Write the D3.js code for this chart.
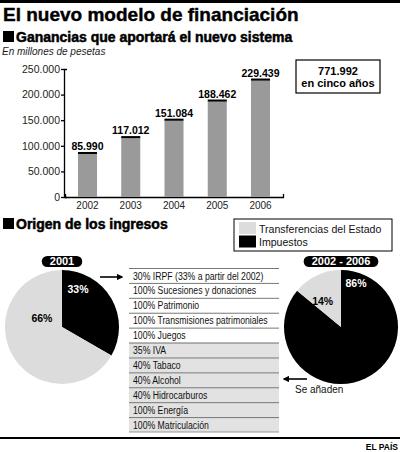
<!DOCTYPE html>
<html>
<head>
<meta charset="utf-8">
<script src="https://cdn.jsdelivr.net/npm/d3@7"></script>
<style>
body { margin: 0; background: #fff; }
svg { display: block; font-family: "Liberation Sans", Arial, Helvetica, sans-serif; }
</style>
</head>
<body>
<svg id="chart"></svg>
<script>
// bar chart: gains per year, millones de pesetas
var years = ["2002", "2003", "2004", "2005", "2006"];
var gains = [85990, 117012, 151084, 188462, 229439];
var yTicks = [0, 50000, 100000, 150000, 200000, 250000];
var totalGain = "771.992";

// pies: first value is Impuestos (black), second Transferencias (light)
var legendNames = ["Transferencias del Estado", "Impuestos"];
var share2001 = [33, 66];
var share2006 = [86, 14];

// taxes ceded; the ones from index 5 on are the new ones (se añaden)
var taxes = [
    "30% IRPF (33% a partir del 2002)",
    "100% Sucesiones y donaciones",
    "100% Patrimonio",
    "100% Transmisiones patrimoniales",
    "100% Juegos",
    "35% IVA",
    "40% Tabaco",
    "40% Alcohol",
    "40% Hidrocarburos",
    "100% Energía",
    "100% Matriculación"
];
var firstAdded = 5;

var black = "#000", light = "#dcdcdc", barGrey = "#9a9a9a";

var svg = d3.select("#chart")
    .attr("width", 400)
    .attr("height", 452);

svg.append("rect").attr("width", 400).attr("height", 452).attr("fill", "#fff");

var defs = svg.append("defs");
defs.append("marker")
    .attr("id", "head")
    .attr("viewBox", "0 0 10 10")
    .attr("refX", 8).attr("refY", 5)
    .attr("markerWidth", 4).attr("markerHeight", 4)
    .attr("orient", "auto")
    .append("path")
    .attr("d", "M0,0L10,5L0,10z")
    .attr("fill", black);

// top rule + titles
svg.append("rect").attr("x", 0).attr("y", 0).attr("width", 400).attr("height", 3).attr("fill", black);

svg.append("text")
    .attr("x", 3).attr("y", 21)
    .attr("font-size", 19).attr("font-weight", "bold")
    .attr("stroke", black).attr("stroke-width", 0.4)
    .text("El nuevo modelo de financiación");

function header(yBase, label) {
    svg.append("rect").attr("x", 3).attr("y", yBase - 11).attr("width", 11).attr("height", 11).attr("fill", black);
    svg.append("text")
        .attr("x", 16).attr("y", yBase)
        .attr("font-size", 14).attr("font-weight", "bold")
        .attr("stroke", black).attr("stroke-width", 0.5)
        .text(label);
}

header(42, "Ganancias que aportará el nuevo sistema");

svg.append("text")
    .attr("x", 2).attr("y", 55)
    .attr("font-size", 10).attr("font-style", "italic")
    .attr("fill", "#222")
    .text("En millones de pesetas");

drawBars();
header(229, "Origen de los ingresos");
drawLegend();
drawPie(62, 327, share2001, "2001", [[23, 41], [294, 22]]);
drawPie(341, 327, share2006, "2002 - 2006", [[19, 46], [325, 32]]);
drawTable();

// arrows
svg.append("line")
    .attr("x1", 100).attr("y1", 277).attr("x2", 122).attr("y2", 277)
    .attr("stroke", black).attr("stroke-width", 1.6)
    .attr("marker-end", "url(#head)");
svg.append("line")
    .attr("x1", 307).attr("y1", 379).attr("x2", 284).attr("y2", 379)
    .attr("stroke", black).attr("stroke-width", 1.6)
    .attr("marker-end", "url(#head)");
svg.append("text")
    .attr("transform", "translate(295,393) scale(0.87,1)")
    .attr("font-size", 11.5).attr("fill", "#111")
    .text("Se añaden");

// footer
svg.append("rect").attr("x", 0).attr("y", 437).attr("width", 400).attr("height", 2).attr("fill", black);
svg.append("text")
    .attr("x", 398).attr("y", 450)
    .attr("text-anchor", "end")
    .attr("font-size", 8.5).attr("font-weight", "bold")
    .text("EL PAÍS");

function drawBars() {
    var data = years.map(function(yr, i) { return { year: yr, value: gains[i] }; });
    var fmt = d3.formatLocale({ decimal: ",", thousands: ".", grouping: [3], currency: ["", ""] }).format(",");

    var x = d3.scaleBand().domain(years).range([65, 283]).paddingInner(0.56).paddingOuter(0.3);
    var y = d3.scaleLinear().domain([0, 250000]).range([197, 69]);

    var yAxis = svg.append("g")
        .attr("transform", "translate(64,0)")
        .call(d3.axisLeft(y).tickValues(yTicks).tickFormat(fmt).tickSize(3).tickSizeOuter(-3).tickPadding(1));
    yAxis.selectAll("text").attr("font-size", 10.5).attr("fill", "#222").attr("font-family", null);
    yAxis.selectAll("path, line").attr("stroke", black).attr("stroke-width", 1.3);

    var xAxis = svg.append("g")
        .attr("transform", "translate(0,197)")
        .call(d3.axisBottom(x).tickSize(0).tickSizeOuter(-3).tickPadding(5));
    xAxis.selectAll("text").attr("font-size", 10).attr("fill", "#222").attr("font-family", null);
    xAxis.selectAll("path").attr("stroke", black).attr("stroke-width", 1.3);

    var bars = svg.append("g");
    bars.selectAll(".bar").data(data).enter().append("rect")
        .attr("class", "bar")
        .attr("x", function(d) { return x(d.year); })
        .attr("y", function(d) { return y(d.value); })
        .attr("width", x.bandwidth())
        .attr("height", function(d) { return y(0) - y(d.value); })
        .attr("fill", barGrey);
    bars.selectAll(".cap").data(data).enter().append("rect")
        .attr("class", "cap")
        .attr("x", function(d) { return x(d.year); })
        .attr("y", function(d) { return y(d.value) - 1; })
        .attr("width", x.bandwidth())
        .attr("height", 2)
        .attr("fill", black);
    bars.selectAll(".val").data(data).enter().append("text")
        .attr("class", "val")
        .attr("x", function(d) { return x(d.year) + x.bandwidth() / 2; })
        .attr("y", function(d) { return y(d.value) - 3; })
        .attr("text-anchor", "middle")
        .attr("font-size", 10.5).attr("font-weight", "bold")
        .text(function(d) { return fmt(d.value); });

    // total box
    svg.append("rect")
        .attr("x", 296).attr("y", 60).attr("width", 84).attr("height", 33)
        .attr("fill", "#fff").attr("stroke", black).attr("stroke-width", 1.2);
    svg.append("text")
        .attr("x", 338).attr("y", 75)
        .attr("text-anchor", "middle").attr("font-size", 11).attr("font-weight", "bold")
        .text(totalGain);
    svg.append("text")
        .attr("x", 338).attr("y", 87)
        .attr("text-anchor", "middle").attr("font-size", 11).attr("font-weight", "bold")
        .text("en cinco años");
}

function drawLegend() {
    svg.append("rect")
        .attr("x", 234).attr("y", 219).attr("width", 158).attr("height", 32)
        .attr("fill", "#fff").attr("stroke", black).attr("stroke-width", 1);
    var cols = [light, black];
    legendNames.forEach(function(name, i) {
        svg.append("rect")
            .attr("x", 239).attr("y", 222 + i * 13.5).attr("width", 17).attr("height", 12)
            .attr("fill", cols[i]);
        svg.append("text")
            .attr("transform", "translate(259," + (233 + i * 13) + ") scale(0.92,1)")
            .attr("font-size", 11.5).attr("fill", "#111")
            .text(name);
    });
}

function drawPie(cx, cy, values, label, labelPolar) {
    var g = svg.append("g").attr("transform", "translate(" + cx + "," + cy + ")");
    var pie = d3.pie().sort(null);
    var arc = d3.arc().innerRadius(0).outerRadius(57);
    var cols = [black, light];

    g.selectAll("path").data(pie(values)).enter().append("path")
        .attr("d", arc)
        .attr("fill", function(d, i) { return cols[i]; });

    // percent labels, placed near the top of each slice like the original
    values.forEach(function(v, i) {
        var p = labelPolar[i];
        var a = p[0] * Math.PI / 180;
        var c = d3.arc().innerRadius(p[1]).outerRadius(p[1]).centroid({ startAngle: a, endAngle: a });
        g.append("text")
            .attr("x", c[0]).attr("y", c[1])
            .attr("dy", "0.36em")
            .attr("text-anchor", "middle")
            .attr("font-size", 10.5).attr("font-weight", "bold")
            .attr("fill", i === 0 ? "#fff" : black)
            .text(v + "%");
    });

    // year pill
    var pill = svg.append("g").attr("transform", "translate(" + cx + ",261.5)");
    var pr = pill.append("rect");
    var pt = pill.append("text")
        .attr("text-anchor", "middle").attr("dy", "0.36em")
        .attr("font-size", 11).attr("font-weight", "bold").attr("fill", "#fff")
        .text(label);
    var w = pt.node().getComputedTextLength() + 16;
    pr.attr("x", -w / 2).attr("y", -5.5).attr("width", w).attr("height", 11)
        .attr("rx", 5.5).attr("fill", black);
}

function drawTable() {
    var rowY = d3.scaleBand().domain(d3.range(taxes.length)).range([268, 432]);
    var g = svg.append("g");
    g.selectAll(".row").data(taxes).enter().append("rect")
        .attr("class", "row")
        .attr("x", 129).attr("width", 150)
        .attr("y", function(d, i) { return rowY(i); })
        .attr("height", rowY.bandwidth())
        .attr("fill", function(d, i) { return i >= firstAdded ? "#e2e2e2" : "#fff"; });
    g.selectAll(".sep").data(taxes).enter().append("line")
        .attr("class", "sep")
        .attr("x1", 129).attr("x2", 279)
        .attr("y1", function(d, i) { return rowY(i) + 0.5; })
        .attr("y2", function(d, i) { return rowY(i) + 0.5; })
        .attr("stroke", "#777").attr("stroke-width", 1);
    g.append("line")
        .attr("x1", 129).attr("x2", 279)
        .attr("y1", rowY.range()[1]).attr("y2", rowY.range()[1])
        .attr("stroke", "#999").attr("stroke-width", 1);
    g.selectAll(".tax").data(taxes).enter().append("text")
        .attr("class", "tax")
        .attr("transform", function(d, i) { return "translate(133," + (rowY(i) + 11.5) + ") scale(0.79,1)"; })
        .attr("font-size", 11).attr("fill", "#111")
        .text(function(d) { return d; });
}
</script>
</body>
</html>
